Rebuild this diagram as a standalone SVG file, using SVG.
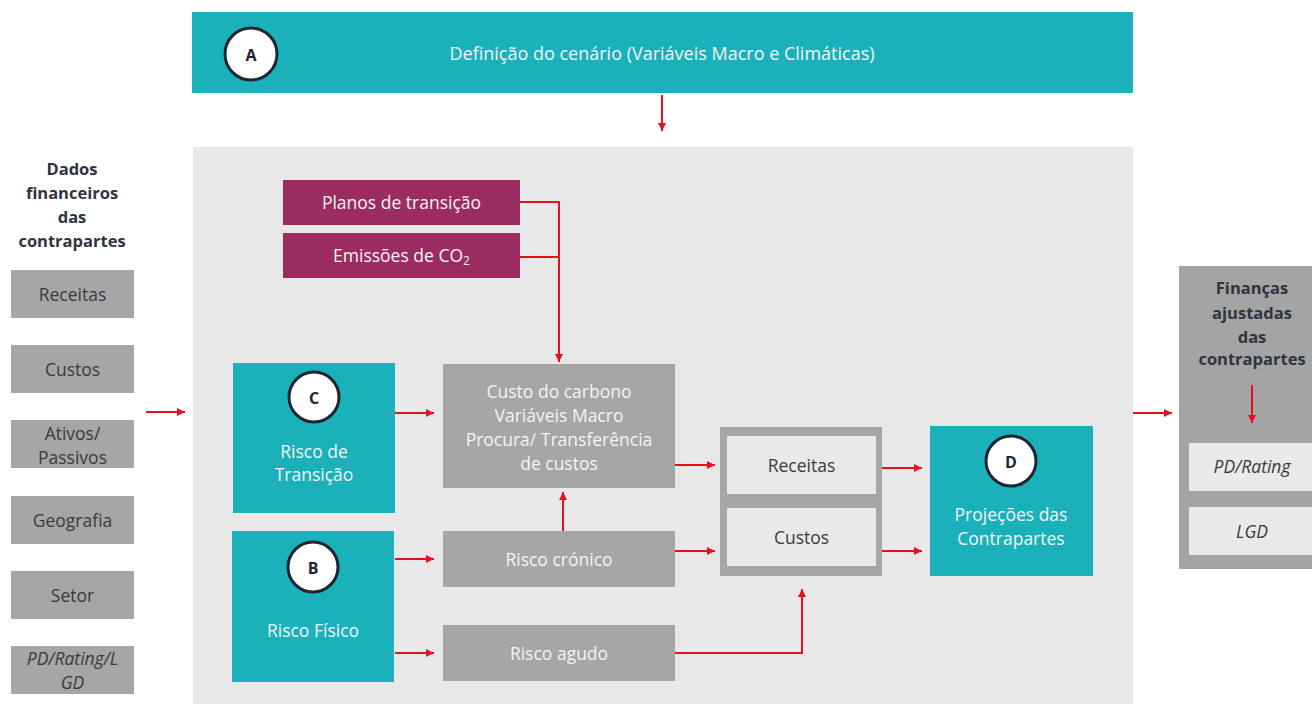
<svg xmlns="http://www.w3.org/2000/svg" width="1312" height="704" viewBox="0 0 1312 704">
<defs>
<marker id="ah" viewBox="0 0 10 10" refX="10" refY="5" markerWidth="8" markerHeight="8" markerUnits="userSpaceOnUse" orient="auto">
<path d="M0,0 L10,5 L0,10 z" fill="#E5121B"/>
</marker>
<style>
text{font-family:"Open Sans","Noto Sans","Liberation Sans",sans-serif;text-anchor:middle;dominant-baseline:central}
.teal{fill:#1AB1BB}
.gray{fill:#A6A6A6}
.purple{fill:#9B2C5F}
.light{fill:#E9E9E9}
.wt{fill:#F4F4F4;font-size:17.5px}
.dt{fill:#3A3A3A;font-size:17.5px}
.bt{fill:#2E3440;font-size:16.5px;font-weight:bold}
.circ{fill:#FFFFFF;stroke:#1F2530;stroke-width:3}
.lt{fill:#1F2530;font-size:16px;font-weight:bold}
.con{fill:none;stroke:#E5121B;stroke-width:2}
.it{font-style:italic}
</style>
</defs>
<rect x="193" y="147" width="940" height="557" fill="#E8E8E8"/>
<g id="nodeA">
<rect x="192" y="12" width="941" height="81" class="teal"/>
<circle cx="251" cy="54" r="26" class="circ"/>
<text x="251" y="55" class="lt">A</text>
<text x="662" y="53" class="wt" style="font-size:18px">Definição do cenário (Variáveis Macro e Climáticas)</text>
</g>
<g id="inputTitle">
<text x="72" y="168" class="bt">Dados</text>
<text x="72" y="192" class="bt">financeiros</text>
<text x="72" y="216" class="bt">das</text>
<text x="72" y="240" class="bt">contrapartes</text>
</g>
<g id="inReceitas"><rect x="11" y="270" width="123" height="48" class="gray"/><text x="72.5" y="294" class="dt">Receitas</text></g>
<g id="inCustos"><rect x="11" y="345" width="123" height="48" class="gray"/><text x="72.5" y="369" class="dt">Custos</text></g>
<g id="inAtivos"><rect x="11" y="420" width="123" height="48" class="gray"/><text x="72.5" y="433" class="dt">Ativos/</text><text x="72.5" y="457" class="dt">Passivos</text></g>
<g id="inGeografia"><rect x="11" y="496" width="123" height="48" class="gray"/><text x="72.5" y="520" class="dt">Geografia</text></g>
<g id="inSetor"><rect x="11" y="571" width="123" height="48" class="gray"/><text x="72.5" y="595" class="dt">Setor</text></g>
<g id="inPD"><rect x="11" y="646" width="123" height="48" class="gray"/><text x="72.5" y="658" class="dt it">PD/Rating/L</text><text x="72.5" y="682" class="dt it">GD</text></g>
<g id="planos"><rect x="283" y="180" width="237" height="45" class="purple"/><text x="401.5" y="202" class="wt">Planos de transição</text></g>
<g id="emissoes"><rect x="283" y="233" width="237" height="45" class="purple"/><text x="401.5" y="255" class="wt">Emissões de CO<tspan dy="5" style="font-size:12px">2</tspan></text></g>
<g id="nodeC">
<rect x="233" y="363" width="162" height="150" class="teal"/>
<circle cx="314" cy="397" r="25" class="circ"/>
<text x="314" y="398" class="lt">C</text>
<text x="314" y="451" class="wt">Risco de</text>
<text x="314" y="474" class="wt">Transição</text>
</g>
<g id="nodeB">
<rect x="232" y="531" width="162" height="151" class="teal"/>
<circle cx="313" cy="567" r="25" class="circ"/>
<text x="313" y="568" class="lt">B</text>
<text x="313" y="630" class="wt">Risco Físico</text>
</g>
<g id="custoCarbono">
<rect x="443" y="364" width="232" height="124" class="gray"/>
<text x="559" y="391" class="wt">Custo do carbono</text>
<text x="559" y="415" class="wt">Variáveis Macro</text>
<text x="559" y="439" class="wt">Procura/ Transferência</text>
<text x="559" y="463" class="wt">de custos</text>
</g>
<g id="riscoCronico"><rect x="443" y="531" width="232" height="56" class="gray"/><text x="559" y="559" class="wt">Risco crónico</text></g>
<g id="riscoAgudo"><rect x="443" y="625" width="232" height="56" class="gray"/><text x="559" y="653" class="wt">Risco agudo</text></g>
<g id="resultados">
<rect x="720" y="427" width="162" height="149" fill="#A6A6A6"/>
<rect x="727" y="436" width="149" height="58" class="light"/>
<text x="801.5" y="465" class="dt">Receitas</text>
<rect x="727" y="508" width="149" height="58" class="light"/>
<text x="801.5" y="537" class="dt">Custos</text>
</g>
<g id="nodeD">
<rect x="930" y="426" width="163" height="150" class="teal"/>
<circle cx="1011" cy="461" r="25" class="circ"/>
<text x="1011" y="462" class="lt">D</text>
<text x="1011" y="514" class="wt">Projeções das</text>
<text x="1011" y="538" class="wt">Contrapartes</text>
</g>
<g id="output">
<rect x="1179" y="266" width="133" height="303" fill="#A4A4A4"/>
<text x="1252" y="287" class="bt">Finanças</text>
<text x="1252" y="312" class="bt">ajustadas</text>
<text x="1252" y="336" class="bt">das</text>
<text x="1252" y="358" class="bt">contrapartes</text>
<rect x="1189" y="443" width="123" height="48" class="light"/>
<text x="1252" y="466" class="dt it">PD/Rating</text>
<rect x="1189" y="507" width="123" height="48" class="light"/>
<text x="1252" y="531" class="dt it">LGD</text>
</g>
<g id="connectors">
<path d="M662,95 L662,131" class="con" marker-end="url(#ah)"/>
<path d="M146,412 L185,412" class="con" marker-end="url(#ah)"/>
<path d="M520,202 L559,202 L559,362" class="con" marker-end="url(#ah)"/>
<path d="M520,257 L559,257" class="con"/>
<path d="M395,413 L434,413" class="con" marker-end="url(#ah)"/>
<path d="M395,559 L434,559" class="con" marker-end="url(#ah)"/>
<path d="M395,653 L434,653" class="con" marker-end="url(#ah)"/>
<path d="M563,531 L563,492" class="con" marker-end="url(#ah)"/>
<path d="M675,465 L715,465" class="con" marker-end="url(#ah)"/>
<path d="M675,551 L715,551" class="con" marker-end="url(#ah)"/>
<path d="M675,653 L802,653 L802,589" class="con" marker-end="url(#ah)"/>
<path d="M882,468 L922,468" class="con" marker-end="url(#ah)"/>
<path d="M882,551 L922,551" class="con" marker-end="url(#ah)"/>
<path d="M1133,413 L1172,413" class="con" marker-end="url(#ah)"/>
<path d="M1252,385 L1252,423" class="con" marker-end="url(#ah)"/>
</g>
</svg>
